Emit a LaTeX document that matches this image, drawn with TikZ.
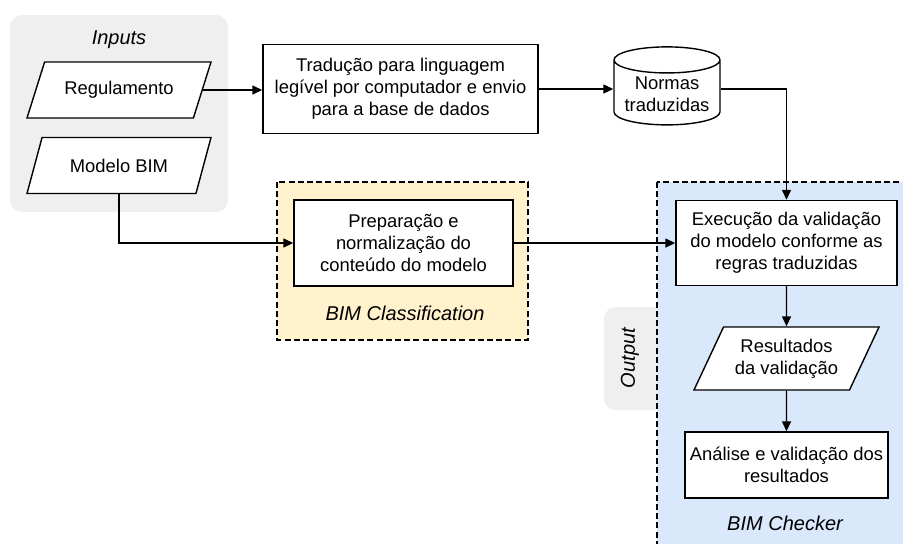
\documentclass[tikz,border=0pt]{standalone}
\usepackage{fontspec}
\setmainfont{Liberation Sans}
\usetikzlibrary{arrows.meta,shapes.geometric}

\definecolor{inbg}{HTML}{EFEFEF}
\definecolor{clsbg}{HTML}{FFF2CC}
\definecolor{chkbg}{HTML}{DAE8FC}

\begin{document}
\begin{tikzpicture}[x=0.5pt,y=-0.5pt,
	font=\fontsize{9.2}{11}\selectfont,
	arr/.style={-{Triangle[length=5pt,width=4.5pt]},line width=0.7pt},
	box/.style={draw,fill=white,line width=0.7pt,align=center,inner sep=2pt},
	data/.style={box,trapezium,trapezium left angle=55,trapezium right angle=125,
		trapezium stretches body,minimum width=92pt,minimum height=28pt},
	grp/.style={dash pattern=on 3pt off 1.6pt,line width=0.6pt},
	grplabel/.style={font=\fontsize{10}{12}\selectfont\itshape}]
	\useasboundingbox (0,0) rectangle (903,543);
	\clip (0,0) rectangle (903,543);
	% groups
	\fill[inbg,rounded corners=6pt] (10,15) rectangle (228,212);
	\fill[inbg,rounded corners=6pt] (604,307) rectangle (690,410);
	\draw[grp,fill=clsbg] (277,182) rectangle (528,340);
	\draw[grp,fill=chkbg] (657,182) rectangle (920,560);
	\node[grplabel] (Lin) at (119,40) {Inputs};
	\node[grplabel] (Lcls) at (405,313) {BIM Classification};
	\node[grplabel] (Lchk) at (785,523) {BIM Checker};
	\node[grplabel,rotate=90] (Lout) at (630,358) {Output};
	% nodes
	\node[data] (Reg) at (119,90) {Regulamento};
	\node[data] (Bim) at (119,165.5) {Modelo BIM};
	\node[box,minimum width=137.5pt,minimum height=44.5pt] (Trad) at (400.5,89)
		{Tradução para linguagem\\legível por computador e envio\\para a base de dados};
	\node[box,cylinder,shape border rotate=90,aspect=0.3,inner sep=0.5pt,
		minimum width=53pt,minimum height=39pt] (Norm) at (667,94) {Normas\\traduzidas};
	\node[box,minimum width=109.5pt,minimum height=43pt] (Prep) at (403.5,243)
		{Preparação e\\normalização do\\conteúdo do modelo};
	\node[box,minimum width=110.5pt,minimum height=42.5pt] (Exec) at (786.5,243)
		{Execução da validação\\do modelo conforme as\\regras traduzidas};
	\node[data,trapezium left angle=58,trapezium right angle=122,minimum width=92.5pt,
		minimum height=31.5pt] (Res) at (786.5,358.5) {Resultados\\da validação};
	\node[box,minimum width=101.5pt,minimum height=33pt] (Anal) at (786.5,465)
		{Análise e validação dos\\resultados};
	% connectors
	\draw[arr] (Reg.east) -- (Reg.east -| Trad.west);
	\draw[arr] (Trad.east) -- (Trad.east -| Norm.west);
	\draw[arr] (Trad.east -| Norm.east) -| (Exec.north);
	\draw[arr] (Bim.south) |- (Prep.west);
	\draw[arr] (Prep.east) -- (Exec.west);
	\draw[arr] (Exec.south) -- (Res.north);
	\draw[arr] (Res.south) -- (Anal.north);
\end{tikzpicture}
\end{document}
